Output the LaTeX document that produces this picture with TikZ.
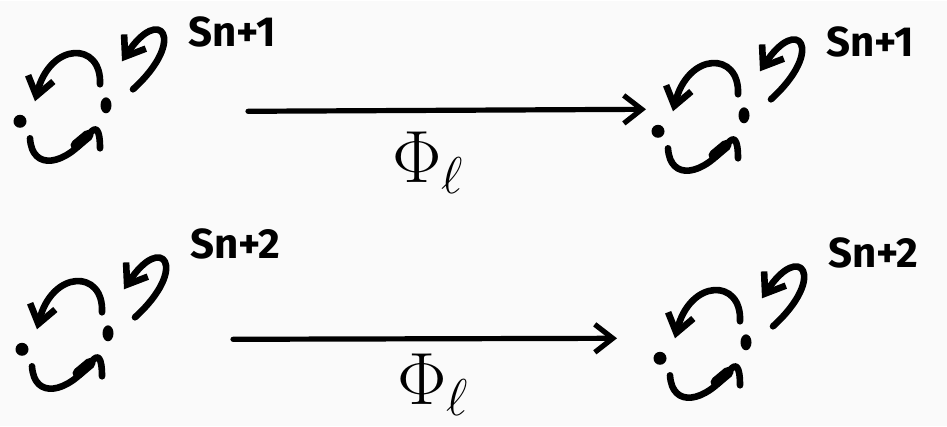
\documentclass[tikz,border=0pt]{standalone}
\usepackage{anyfontsize}
\usepackage{fontspec}
\setsansfont{Fira Sans}
\usetikzlibrary{arrows.meta,shapes.geometric}
\definecolor{paper}{RGB}{250,250,250}

\begin{document}
\begin{tikzpicture}[x=0.5pt,y=-0.5pt,
  dot/.style={circle,fill=black,inner sep=0pt,minimum size=6.5pt},
  tdot/.style={ellipse,fill=black,inner sep=0pt,minimum width=5.5pt,minimum height=8pt},
  stroke/.style={line width=3.3pt,line cap=round,line join=round},
  bendarrow/.style={stroke,-{Straight Barb[length=9pt,width=13pt]}},
  map/.style={line width=2.6pt,line cap=round,-{Straight Barb[length=9pt,width=14pt]}},
  spin/.style={font=\sffamily\bfseries\fontsize{21}{24}\selectfont,anchor=west,inner sep=0pt},
  phi/.style={font=\fontsize{37}{42}\selectfont,anchor=north west,inner sep=0pt}
]
 \fill[paper] (0,0) rectangle (947,425);
 % the four two-point pictures
 \foreach \g/\x/\y/\ly/\lab in {1/20/120/-89/{Sn+1},2/658/130/-89/{Sn+1},
                                3/22/348/-105/{Sn+2},4/660/357/-105/{Sn+2}}{
  \begin{scope}[shift={(\x,\y)}]
   \node[dot] (l\g) at (0,0) {};
   \node[tdot] (r\g) at (86,-16) {};
   \draw[bendarrow] (80,-37) .. controls (82,-80) and (30,-80) .. (15,-20);
   \draw[stroke] (10,17) .. controls (12,50) and (45,45) .. (70,12)
                 .. controls (76,4) and (80,8) .. (80,27);
   \draw[line width=5.5pt,line cap=round] (56,24) -- (68,14);
   \draw[bendarrow] (113,-32) .. controls (168,-82) and (140,-118) .. (102,-60);
   \node[spin] (s\g) at (168,\ly) {\lab};
  \end{scope}
 }
 % the maps
 \coordinate (a1) at (248,110);
 \coordinate (b1) at (646,108);
 \coordinate (a2) at (233,338);
 \coordinate (b2) at (617,337);
 \draw[map] (a1) -- (b1);
 \draw[map] (a2) -- (b2);
 \node[phi] (p1) at (392,130) {$\Phi_\ell$};
 \node[phi] (p2) at (397,352) {$\Phi_\ell$};
\end{tikzpicture}
\end{document}
